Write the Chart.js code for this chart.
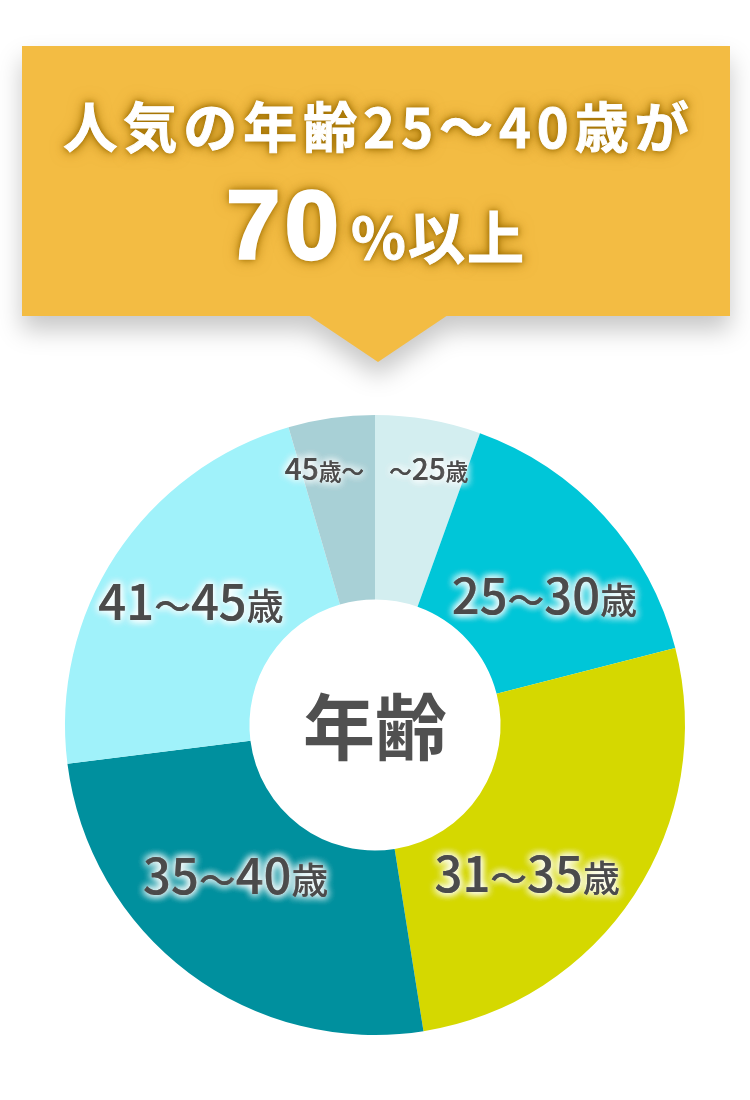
<!DOCTYPE html>
<html lang="ja">
<head>
<meta charset="utf-8">
<title>年齢</title>
<script src="https://cdn.jsdelivr.net/npm/chart.js@4.4.1/dist/chart.umd.min.js"></script>
<style>
  html, body { margin: 0; padding: 0; background: #fff; }
  body {
    width: 750px; height: 1100px; position: relative; overflow: hidden;
    font-family: "Noto Sans CJK JP", sans-serif;
  }
  .banner {
    position: absolute; left: 22px; top: 46px; width: 708px; height: 316px;
    filter: drop-shadow(0 14px 12px rgba(0, 0, 0, 0.22));
  }
  .banner-box {
    position: absolute; left: 0; top: 0; width: 708px; height: 270px;
    background: #f3bc43;
  }
  .banner-tip {
    position: absolute; left: 286px; top: 269px; width: 0; height: 0;
    border-left: 70px solid transparent;
    border-right: 70px solid transparent;
    border-top: 47px solid #f3bc43;
  }
  .headline {
    position: absolute; left: 0; width: 708px; text-align: center;
    color: #fff; font-weight: 700; white-space: nowrap;
    -webkit-text-stroke: 1px #fff;
    text-shadow: 0 0 5px #a07000, 0 0 10px #a07000, 0 0 16px rgba(160, 112, 0, 0.6);
  }
  .line1 { top: 52px; font-size: 54px; line-height: 54px; letter-spacing: 6px; text-indent: 6px; }
  .line2 { top: 124px; line-height: 110px; }
  .big {
    font-size: 98px; font-family: "Liberation Sans", sans-serif; font-weight: 700;
    letter-spacing: 4px; -webkit-text-stroke: 2.5px #fff;
  }
  .mid { font-size: 57px; letter-spacing: 2px; margin-left: 8px; }
  #age-chart { position: absolute; left: 0; top: 395px; }
</style>
</head>
<body>
<div class="banner">
  <div class="banner-box"></div>
  <div class="banner-tip"></div>
  <div class="headline line1">人気の年齢25～40歳が</div>
  <div class="headline line2"><span class="big">70</span><span class="mid">%以上</span></div>
</div>
<canvas id="age-chart" width="750" height="660"></canvas>
<script>
// Data
const ageLabels = ['～25歳', '25～30歳', '31～35歳', '35～40歳', '41～45歳', '45歳～'];
const ageShares = [5.5, 15.5, 26.5, 25.5, 22.5, 4.5];
const sliceColors = ['#d3eef0', '#00c6d8', '#d5d800', '#00909e', '#a0f2fa', '#a8d0d6'];
const centerTitle = '年齢';

// small pixel nudges so labels sit where the original put them
const labelNudge = [[9, 1], [10, 16], [-28, 31], [-10, -21], [-4, -5], [-14, 2]];

function drawLabel(ctx, text, cx, cy, size) {
  const parts = [...text].map(ch => ({ ch, s: /[0-9]/.test(ch) ? size : size * 0.75 }));
  ctx.save();
  ctx.textAlign = 'left';
  ctx.textBaseline = 'alphabetic';
  let total = 0;
  parts.forEach(p => {
    ctx.font = `500 ${p.s}px "Noto Sans CJK JP"`;
    p.w = ctx.measureText(p.ch).width;
    total += p.w;
  });
  const base = cy + size * 0.365;
  ctx.shadowColor = '#ffffff';
  ctx.shadowBlur = 9;
  ctx.fillStyle = '#4b4b4b';
  for (let k = 0; k < 3; k++) {
    let px = cx - total / 2;
    parts.forEach(p => {
      ctx.font = `500 ${p.s}px "Noto Sans CJK JP"`;
      ctx.fillText(p.ch, px, base);
      px += p.w;
    });
  }
  ctx.restore();
}

const sliceLabels = {
  id: 'sliceLabels',
  afterDatasetsDraw(chart) {
    const ctx = chart.ctx;
    const arcs = chart.getDatasetMeta(0).data;
    arcs.forEach((arc, i) => {
      const { x, y, startAngle, endAngle, outerRadius } =
        arc.getProps(['x', 'y', 'startAngle', 'endAngle', 'outerRadius'], true);
      const mid = (startAngle + endAngle) / 2;
      const small = ageShares[i] < 10;
      const r = outerRadius * (small ? 0.84 : 0.695);
      const cx = x + Math.cos(mid) * r + labelNudge[i][0];
      const cy = y + Math.sin(mid) * r + labelNudge[i][1];
      drawLabel(ctx, ageLabels[i], cx, cy, small ? 30 : 49);
    });

    // title in the hole
    const c = arcs[0];
    ctx.save();
    ctx.font = 'bold 72px "Noto Sans CJK JP"';
    ctx.textAlign = 'center';
    ctx.textBaseline = 'middle';
    ctx.fillStyle = '#505050';
    ctx.fillText(centerTitle, c.x, c.y + 2);
    ctx.restore();
  }
};

const ageCtx = document.getElementById('age-chart').getContext('2d');
new Chart(ageCtx, {
  type: 'doughnut',
  data: {
    labels: ageLabels,
    datasets: [{
      data: ageShares,
      backgroundColor: sliceColors,
      borderWidth: 0
    }]
  },
  options: {
    responsive: false,
    animation: false,
    cutout: '40.5%',
    layout: { padding: 20 },
    plugins: {
      legend: { display: false },
      tooltip: { enabled: false }
    }
  },
  plugins: [sliceLabels]
});
</script>
</body>
</html>
